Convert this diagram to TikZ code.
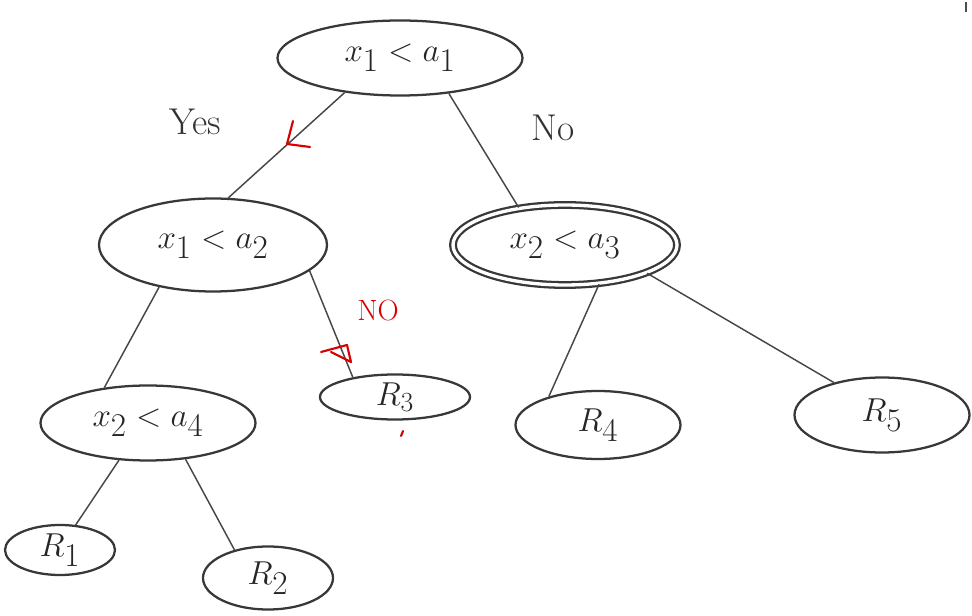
\documentclass[tikz,border=0pt]{standalone}
\usetikzlibrary{shapes.geometric}
\begin{document}
\begin{tikzpicture}[x=0.75pt,y=-0.75pt,
  nd/.style={draw=black!78, line width=1.7pt, ellipse, inner sep=-8pt, text=black!85, font=\fontsize{34}{38}\selectfont},
  edge/.style={draw=black!72, line width=1.1pt},
  lbl/.style={font=\fontsize{28}{32}\selectfont, text=black!80},
  redmark/.style={draw=red!85!black, line width=1.6pt, line cap=round, line join=round}]
\useasboundingbox (0,0) rectangle (972,616);
\node[nd, minimum width=245*0.75pt, minimum height=75*0.75pt] (root) at (400,58) {$x_1 < a_1$};
\node[nd, minimum width=228*0.75pt, minimum height=93*0.75pt] (l1) at (213,245) {$x_1 < a_2$};
\node[nd, double, double distance=2.5pt, minimum width=224*0.75pt, minimum height=80*0.75pt] (r1) at (565,245) {$x_2 < a_3$};
\node[nd, minimum width=215*0.75pt, minimum height=75*0.75pt] (ll) at (148,423) {$x_2 < a_4$};
\node[nd, font=\fontsize{28}{32}\selectfont, minimum width=150*0.75pt, minimum height=45*0.75pt] (rthree) at (395,397) {$R_3$};
\node[nd, minimum width=165*0.75pt, minimum height=68*0.75pt] (rfour) at (598,425) {$R_4$};
\node[nd, minimum width=175*0.75pt, minimum height=75*0.75pt] (rfive) at (882,415) {$R_5$};
\node[nd, minimum width=110*0.75pt, minimum height=50*0.75pt] (rone) at (60,550) {$R_1$};
\node[nd, minimum width=130*0.75pt, minimum height=63*0.75pt] (rtwo) at (268,578) {$R_2$};

\draw[edge] (root.212) -- (l1.72);
\draw[edge] (root.324) -- (r1.141);
\draw[edge] (l1.218) -- (ll.141);
\draw[edge] (l1.345) -- (rthree.155);
\draw[edge] (r1.311) -- (rfour.150);
\draw[edge] (r1.341) -- (rfive.146);
\draw[edge] (ll.232) -- (rone.58);
\draw[edge] (ll.316) -- (rtwo.140);

\node[lbl] (yes) at (195,122) {Yes};
\node[lbl] (no) at (553,128) {No};
\node[lbl, text=red!85!black, font=\fontsize{22}{26}\selectfont] (rno) at (378,310) {NO};
\draw[redmark] (293,121) -- (287,144) -- (310,147);
\draw[redmark] (321,352) -- (347,345) -- (351,362) -- (331,352);
\draw[redmark] (403,431) -- (401,436);
\draw[draw=black!70, line width=1.2pt] (966,2) -- (966,12);
\end{tikzpicture}
\end{document}
